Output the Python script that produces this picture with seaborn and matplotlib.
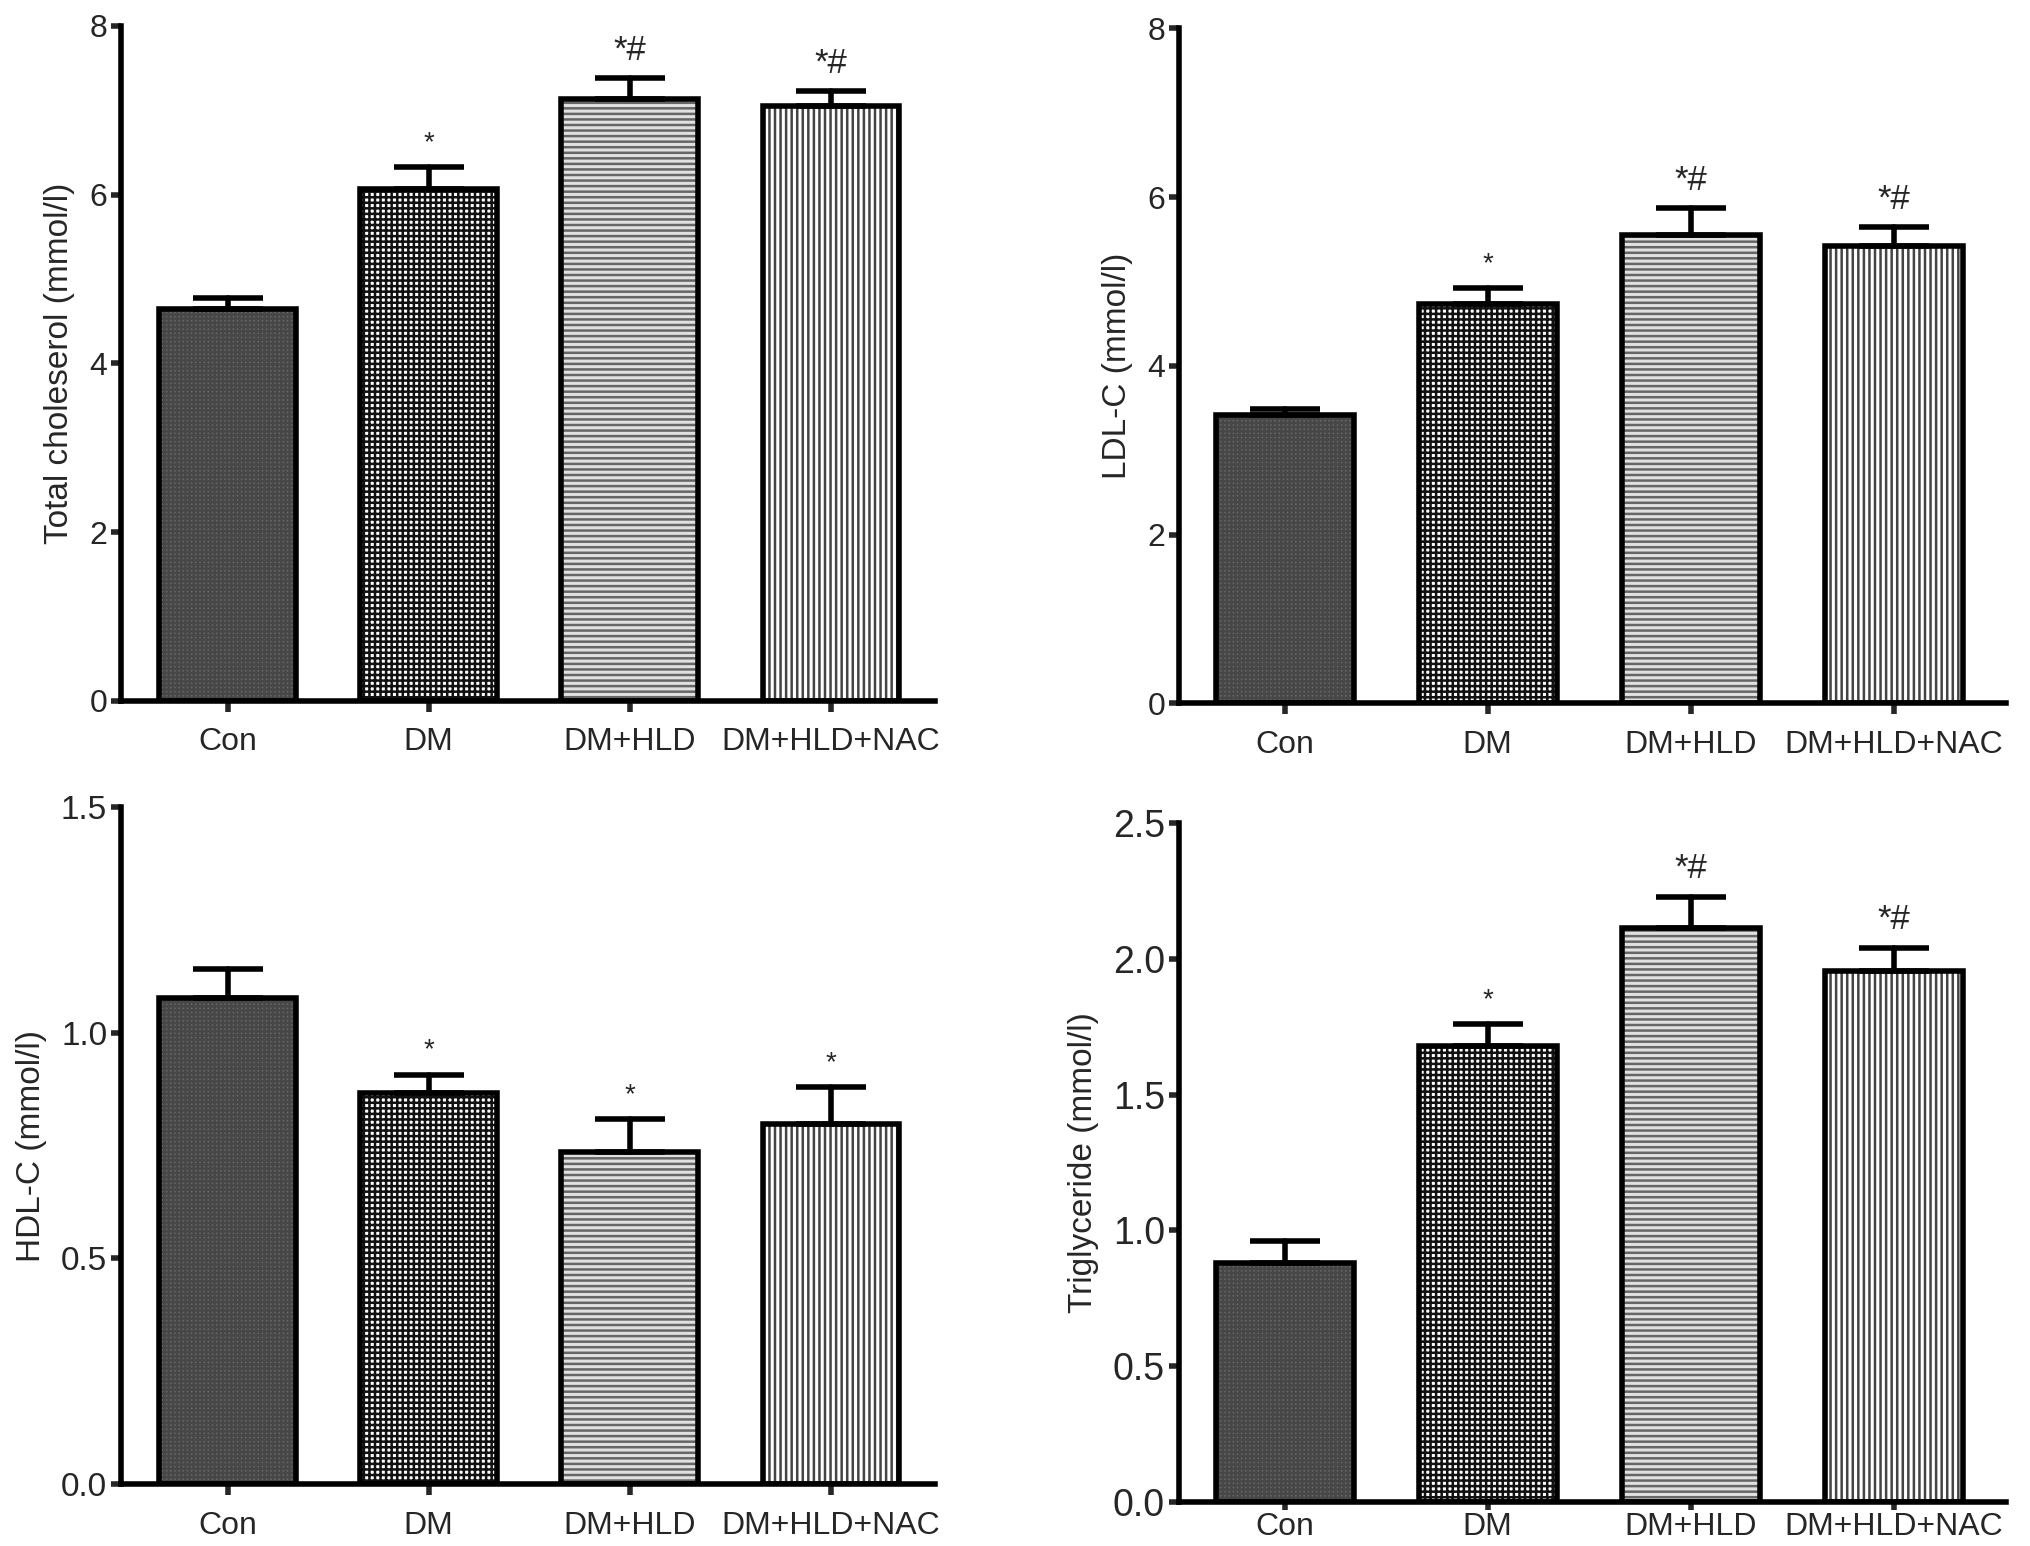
import numpy as np
import pandas as pd
import matplotlib
matplotlib.use('Agg')
import matplotlib.pyplot as plt
import seaborn as sns
from matplotlib.patches import Rectangle

sns.set_style('white')
plt.rcParams['font.family'] = ['Liberation Sans', 'DejaVu Sans']
plt.rcParams['hatch.linewidth'] = 1.8

groups = ['Con', 'DM', 'DM+HLD', 'DM+HLD+NAC']

# values (mean, upper SEM)
tc_mean = [4.65, 6.07, 7.14, 7.05]
tc_err = [0.13, 0.26, 0.24, 0.18]
tc_marks = ['', '*', '*#', '*#']

ldl_mean = [3.42, 4.74, 5.55, 5.42]
ldl_err = [0.07, 0.18, 0.32, 0.23]
ldl_marks = ['', '*', '*#', '*#']

hdl_mean = [1.078, 0.867, 0.735, 0.797]
hdl_err = [0.064, 0.040, 0.073, 0.083]
hdl_marks = ['', '*', '*', '*']

tg_mean = [0.88, 1.68, 2.115, 1.957]
tg_err = [0.08, 0.08, 0.115, 0.085]
tg_marks = ['', '*', '*#', '*#']

face_colors = ['#666666', '#ffffff', '#e0e0e0', '#ffffff']
hatches = ['++++', '+++', '---', '|||']
hatch_colors = ['#474747', '#111111', '#666666', '#444444']

LW = 4.0


def draw_panel(ax, means, errs, marks, ylabel, ymax, yticks, ytick_fmt, ytick_fs,
               xlim, xpad=11, xlen=8):
    df = pd.DataFrame({'group': groups, 'value': means})
    sns.barplot(data=df, x='group', y='value', hue='group',
                palette=dict(zip(groups, face_colors)), legend=False,
                width=0.68, saturation=1, errorbar=None, ax=ax)
    bars = list(ax.patches)
    for patch, hatch, hcol in zip(bars, hatches, hatch_colors):
        patch.set_edgecolor('none')
        xy, w, h = patch.get_xy(), patch.get_width(), patch.get_height()
        ax.add_patch(Rectangle(xy, w, h, fill=False, hatch=hatch, edgecolor=hcol,
                               linewidth=0, zorder=2.1))
        ax.add_patch(Rectangle(xy, w, h, fill=False, edgecolor='black',
                               linewidth=LW, joinstyle='miter', zorder=2.3))

    x = np.arange(len(groups))
    eb = ax.errorbar(x, means, yerr=[np.zeros(len(means)), errs], fmt='none',
                     ecolor='black', elinewidth=LW, capsize=25, capthick=LW, zorder=2.2)
    for ln in eb[2]:
        ln.set_capstyle('round')

    for i, (m, e, mk) in enumerate(zip(means, errs, marks)):
        if mk:
            fs = 20 if mk == '*' else 25
            ax.annotate(mk, (i, m + e), xytext=(0, 8), textcoords='offset points',
                        ha='center', va='bottom', fontsize=fs)

    ax.set_ylim(0, ymax)
    ax.set_xlim(*xlim)
    ax.set_yticks(yticks)
    ax.set_yticklabels([ytick_fmt.format(t) for t in yticks])
    ax.set_xlabel('')
    ax.set_ylabel(ylabel, fontsize=24, labelpad=10)
    sns.despine(ax=ax)
    for side in ['left', 'bottom']:
        ax.spines[side].set_linewidth(LW)
        ax.spines[side].set_color('black')
    ax.tick_params(axis='y', direction='out', length=7, width=LW, labelsize=ytick_fs,
                   left=True, pad=3)
    ax.tick_params(axis='x', direction='out', length=xlen, width=LW, labelsize=23,
                   bottom=True, pad=xpad)


fig = plt.figure(figsize=(20.31, 15.46), dpi=100)
ax_tc = fig.add_axes([0.0596, 0.5466, 0.401, 0.4366])
ax_ldl = fig.add_axes([0.5805, 0.545, 0.407, 0.4366])
ax_hdl = fig.add_axes([0.0596, 0.040, 0.401, 0.438])
ax_tg = fig.add_axes([0.5805, 0.0285, 0.407, 0.439])

draw_panel(ax_tc, tc_mean, tc_err, tc_marks, 'Total choleserol (mmol/l)',
           8, [0, 2, 4, 6, 8], '{:.0f}', 23, (-0.53, 3.52))
draw_panel(ax_ldl, ldl_mean, ldl_err, ldl_marks, 'LDL-C (mmol/l)',
           8, [0, 2, 4, 6, 8], '{:.0f}', 23, (-0.52, 3.55))
draw_panel(ax_hdl, hdl_mean, hdl_err, hdl_marks, 'HDL-C (mmol/l)',
           1.5, [0.0, 0.5, 1.0, 1.5], '{:.1f}', 24, (-0.53, 3.52))
draw_panel(ax_tg, tg_mean, tg_err, tg_marks, 'Triglyceride (mmol/l)',
           2.5, [0.0, 0.5, 1.0, 1.5, 2.0, 2.5], '{:.1f}', 27, (-0.52, 3.55),
           xpad=1, xlen=6)

fig.savefig('out.png', dpi=100, facecolor='white')
